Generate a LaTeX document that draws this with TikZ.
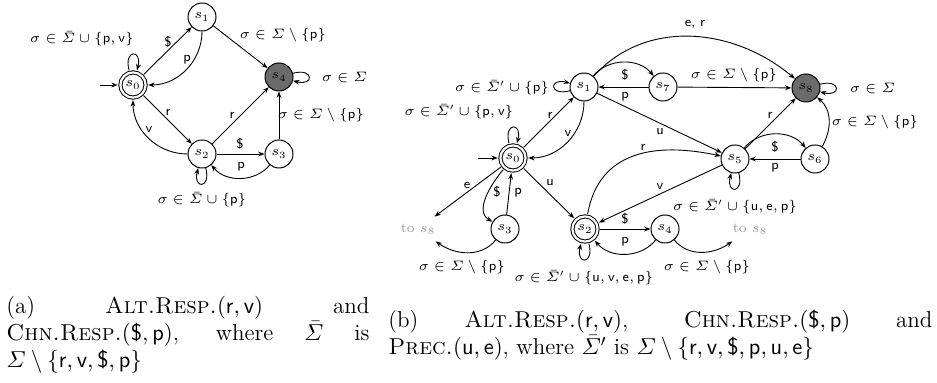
\RequirePackage{fix-cm}
\documentclass[tikz,border=0pt]{standalone}
\usepackage{amsmath}
\usetikzlibrary{arrows.meta}
\newcommand{\act}[1]{\textsf{#1}}
\newcommand{\capfont}{\fontsize{11.5}{13.5}\selectfont}

\begin{document}
\begin{tikzpicture}[
  x=0.5pt,y=-0.5pt,
  font=\fontsize{6.8}{8.5}\selectfont,
  st/.style={circle,draw,line width=0.5pt,minimum size=14pt,inner sep=0pt},
  acc/.style={st,double,double distance=1.1pt,minimum size=12.6pt,outer sep=1.3pt},
  sink/.style={st,fill=black!58},
  arr/.style={-{Stealth[length=3.2pt,width=2.4pt]},line width=0.45pt},
  lbl/.style={font=\fontsize{6.8}{8.5}\selectfont\sffamily,inner sep=1pt},
  far/.style={black!40},
  capt/.style={font=\capfont,align=left,inner sep=0pt,anchor=north west},
  every loop/.style={min distance=11pt,looseness=6}]

% layout in px of the 937x383 frame (1px = 0.5pt), y pointing down
\useasboundingbox (0,0) rectangle (937,383);

% ---- (a) Alt.Resp. + Chn.Resp. ----
\node[acc] (a0) at (133,85) {$s_0$};
\node[st] (a1) at (202,17) {$s_1$};
\node[st] (a2) at (202,154) {$s_2$};
\node[st] (a3) at (279,154) {$s_3$};
\node[sink] (a4) at (279,77) {$s_4$};
\coordinate (a0in) at (100,85);

\draw[arr] (a0in) -- (a0);
\path (a0) edge[arr,loop above] ();
\path (a2) edge[arr,loop below] ();
\path (a4) edge[arr,loop right] ();
\draw[arr] (a0) -- (a1);
\draw[arr] (a1) to[out=-90,in=0] (a0);
\draw[arr] (a1) -- (a4);
\draw[arr] (a0) -- (a2);
\draw[arr] (a2) to[out=180,in=-90] (a0);
\draw[arr] (a2) -- (a4);
\draw[arr] (a2) -- (a3);
\draw[arr] (a3) to[bend left=50] (a2);
\draw[arr] (a3) -- (a4);

% labels
\node (la0) at (82,39) {$\sigma\in\bar{\varSigma}\cup\{\act{p},\act{v}\}$};
\node[lbl] (la01) at (168,42) {\$};
\node[lbl] (la10) at (187,60) {p};
\node (la14) at (283,35) {$\sigma\in\varSigma\setminus\{\act{p}\}$};
\node[anchor=west] (la4) at (315,77) {$\sigma\in\varSigma$};
\node[lbl] (la02) at (168,112) {r};
\node[lbl] (la20) at (149,129) {v};
\node[lbl] (la24) at (232,115) {r};
\node[lbl] (la23) at (240,144) {\$};
\node[lbl] (la32) at (241,167) {p};
\node (la34) at (321,115) {$\sigma\in\varSigma\setminus\{\act{p}\}$};
\node (la2) at (202,200) {$\sigma\in\bar{\varSigma}\cup\{\act{p}\}$};

% ---- (b) Alt.Resp. + Chn.Resp. + Prec. ----
\node[acc] (b0) at (513,158) {$s_0$};
\node[st] (b1) at (584,87) {$s_1$};
\node[st] (b7) at (663,87) {$s_7$};
\node[sink] (b8) at (806,88) {$s_8$};
\node[st] (b5) at (735,159) {$s_5$};
\node[st] (b6) at (815,159) {$s_6$};
\node[st] (b3) at (505,229) {$s_3$};
\node[acc] (b2) at (585,229) {$s_2$};
\node[st] (b4) at (665,229) {$s_4$};
\node[far] (bt1) at (418,229) {to $s_8$};
\node[far] (bt2) at (750,229) {to $s_8$};
\coordinate (b0in) at (478,158);

\draw[arr] (b0in) -- (b0);
\path (b0) edge[arr,loop above] ();
\path (b1) edge[arr,loop left] ();
\path (b8) edge[arr,loop right] ();
\path (b5) edge[arr,loop below] ();
\path (b2) edge[arr,loop below] ();
\draw[arr] (b0) -- (b1);
\draw[arr] (b1) to[out=-90,in=0] (b0);
\draw[arr] (b1) to[bend left=50] (b7);
\draw[arr] (b7) -- (b1);
\draw[arr] (b7) -- (b8);
\draw[arr] (b1) to[out=48,in=140] (b8);
\draw[arr] (b1) -- (b5);
\draw[arr] (b5) -- (b8);
\draw[arr] (b5) to[bend left=50] (b6);
\draw[arr] (b6) -- (b5);
\draw[arr] (b6) to[out=60,in=-40] (b8);
\draw[arr] (b2) to[out=80,in=168,looseness=1.15] (b5);
\draw[arr] (b5) -- (b2);
\draw[arr] (b0) -- (b2);
\draw[arr] (b0) -- (bt1);
\draw[arr] (b0) to[out=-130,in=150] (b3);
\draw[arr] (b3) -- (b0);
\draw[arr] (b3) to[out=-130,in=-35] (bt1);
\draw[arr] (b2) -- (b4);
\draw[arr] (b4) to[bend left=50] (b2);
\draw[arr] (b4) to[out=-50,in=-145] (bt2);

% labels
\node (lb0) at (459,112) {$\sigma\in\bar{\varSigma}'\cup\{\act{p},\act{v}\}$};
\node (lb1) at (502,88) {$\sigma\in\bar{\varSigma}'\cup\{\act{p}\}$};
\node[lbl] (lb01) at (550,115) {r};
\node[lbl] (lb10) at (568,133) {v};
\node[lbl] (lb17) at (625,75) {\$};
\node[lbl] (lb71) at (625,97) {p};
\node (lb78) at (734,75) {$\sigma\in\varSigma\setminus\{\act{p}\}$};
\node[lbl] (lb18) at (695,24) {e, r};
\node[anchor=west] (lb8) at (843,88) {$\sigma\in\varSigma$};
\node[lbl] (lb15) at (660,132) {u};
\node[lbl] (lb58) at (770,115) {r};
\node[lbl] (lb56) at (775,147) {\$};
\node[lbl] (lb65) at (775,168) {p};
\node (lb68) at (875,122) {$\sigma\in\varSigma\setminus\{\act{p}\}$};
\node (lb5) at (735,207) {$\sigma\in\bar{\varSigma}'\cup\{\act{u},\act{e},\act{p}\}$};
\node[lbl] (lb25) at (643,147) {r};
\node[lbl] (lb52) at (660,186) {v};
\node[lbl] (lb02) at (550,183) {u};
\node[lbl] (lb0t) at (467,185) {e};
\node[lbl] (lb03) at (497,192) {\$};
\node[lbl] (lb30) at (518,193) {p};
\node (lb3t) at (462,267) {$\sigma\in\varSigma\setminus\{\act{p}\}$};
\node[lbl] (lb24) at (625,219) {\$};
\node[lbl] (lb42) at (625,242) {p};
\node (lb2) at (584,278) {$\sigma\in\bar{\varSigma}'\cup\{\act{u},\act{v},\act{e},\act{p}\}$};
\node (lb4t) at (707,267) {$\sigma\in\varSigma\setminus\{\act{p}\}$};

% ---- captions ----
\node[capt] (capa) at (6,296) {%
  \makebox[181.5pt][s]{(a) \textsc{Alt.Resp.}$(\act{r},\act{v})$ and}\\
  \makebox[181.5pt][s]{\textsc{Chn.Resp.}$(\act{\$},\act{p})$, where $\bar{\varSigma}$ is}\\
  $\varSigma\setminus\{\act{r},\act{v},\act{\$},\act{p}\}$};
\node[capt] (capb) at (388,310) {%
  \makebox[272pt][s]{(b) \textsc{Alt.Resp.}$(\act{r},\act{v})$,
    \textsc{Chn.Resp.}$(\act{\$},\act{p})$ and}\\
  \textsc{Prec.}$(\act{u},\act{e})$, where $\bar{\varSigma}'$ is
  $\varSigma\setminus\{\act{r},\act{v},\act{\$},\act{p},\act{u},\act{e}\}$};
\end{tikzpicture}
\end{document}
